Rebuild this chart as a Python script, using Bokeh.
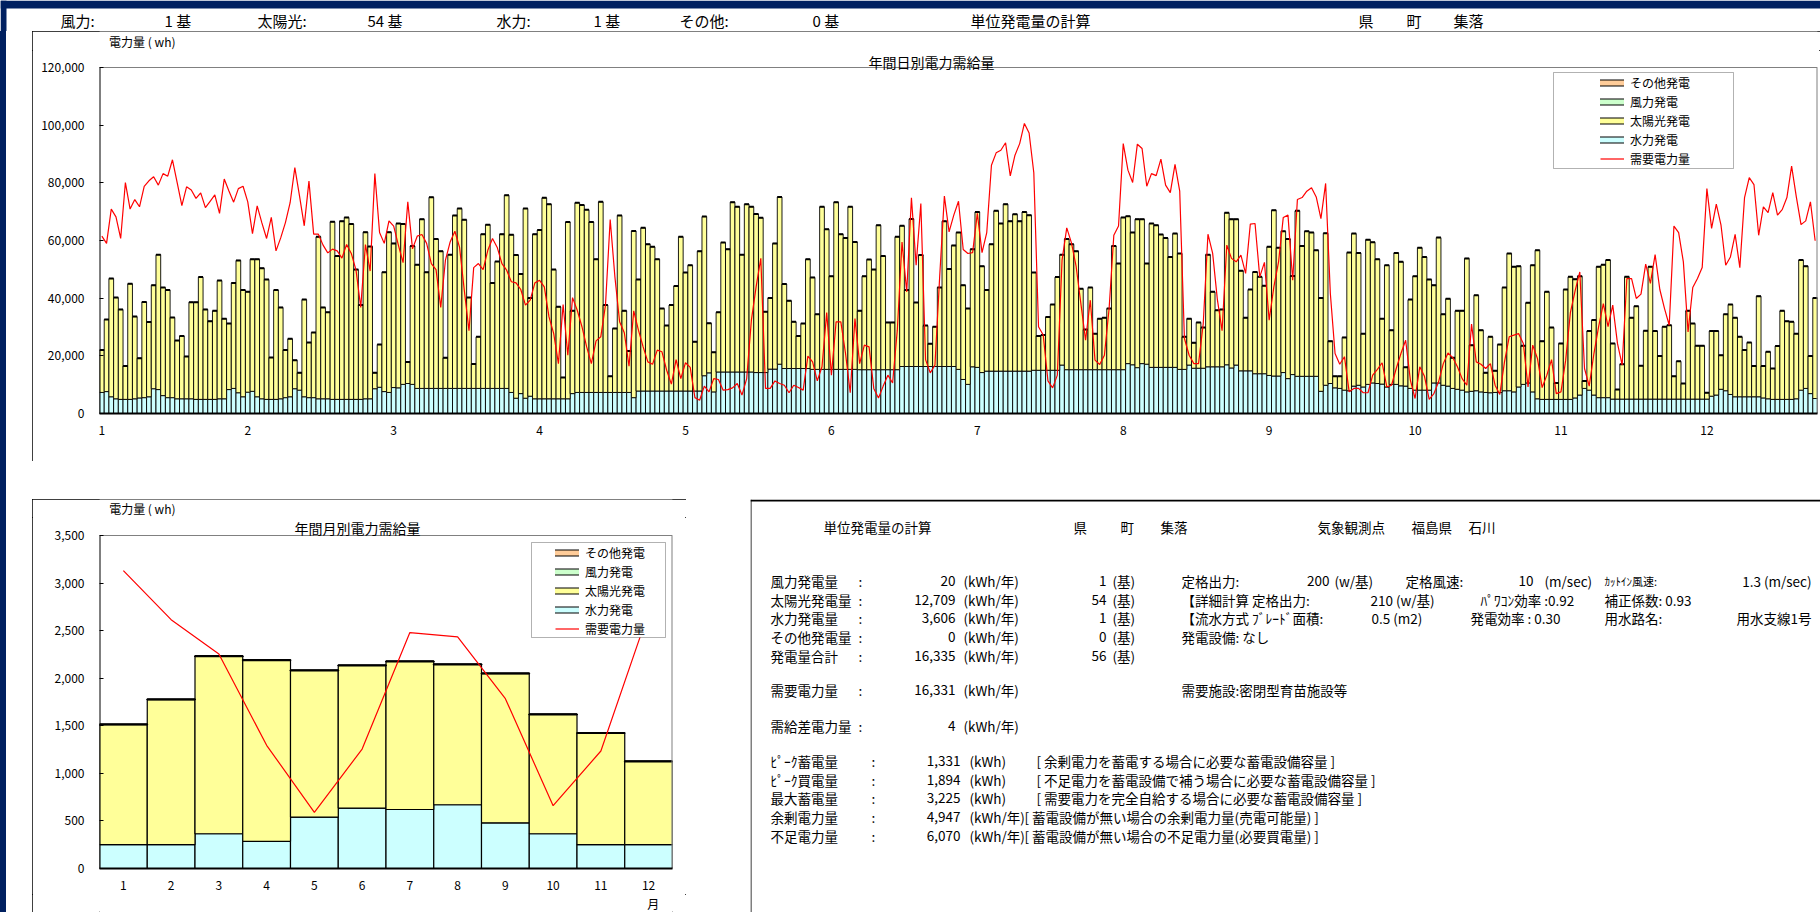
import numpy as np
from bokeh.plotting import figure
from bokeh.layouts import column, row
from bokeh.models import (Spacer, Range1d, FixedTicker, NumeralTickFormatter,
                          Legend, LegendItem, BoxAnnotation)
from bokeh.core.properties import value
from bokeh.embed import file_html
from bokeh.resources import INLINE

FONT = "Noto Sans CJK JP"
NAVY = "#002060"
C_OTHER, C_WIND, C_SOLAR, C_HYDRO, C_DEMAND = "#FFCC99", "#CCFFCC", "#FFFF99", "#CCFFFF", "#FF0000"

# ---------------- daily data (wh) ----------------
hydro_daily = [
    7300, 7600, 5800, 5100, 4900, 4900, 4900, 5100, 5400, 5500,
    5800, 8600, 8300, 6200, 5500, 5500, 5100, 5100, 5100, 5100,
    4900, 4900, 4900, 4900, 4900, 5100, 5100, 8300, 8700, 7200,
    5800, 7400, 7700, 5800, 5100, 4900, 4900, 4900, 5100, 5500,
    5800, 8600, 8100, 5800, 5500, 5500, 5100, 5100, 5100, 4900,
    4900, 4900, 4900, 4900, 4900, 4900, 5100, 5100, 8600, 9100,
    7600, 7300, 9000, 8900, 10100, 10400, 10100, 8700, 8700, 8700,
    8700, 8700, 8700, 8700, 8700, 8700, 8700, 8700, 8700, 8700,
    8700, 8700, 8700, 8700, 8700, 8700, 8700, 7300, 5300, 6900,
    5300, 6000, 5100, 5100, 5100, 5100, 5100, 5100, 5100, 5100,
    6900, 7300, 7300, 7300, 7300, 7300, 7300, 7300, 7300, 7300,
    7300, 7300, 7300, 5500, 7800, 7800, 7800, 7800, 7800, 7800,
    7800, 7800, 7800, 7800, 7800, 7800, 7800, 7800, 13100, 14100,
    7500, 14400, 14400, 14400, 14400, 14400, 14400, 14400, 14400, 14200,
    14200, 14200, 15400, 15400, 17100, 15600, 15600, 15600, 15600, 15600,
    15600, 15300, 15300, 15300, 15300, 15300, 15300, 15300, 15300, 15300,
    15300, 15200, 15200, 15200, 15200, 15200, 15200, 15200, 15200, 15200,
    16300, 16300, 16300, 16300, 16300, 16300, 16300, 16300, 16300, 16300,
    16300, 16300, 15300, 11800, 10100, 16200, 16000, 14200, 14700, 14700,
    14700, 14700, 14700, 14700, 14700, 14700, 14700, 14700, 15000, 15000,
    15000, 15000, 15000, 15000, 16800, 15200, 15200, 15200, 15200, 15200,
    15200, 15200, 15200, 15200, 15200, 15200, 15200, 15200, 17300, 16900,
    15900, 17300, 17100, 16000, 16000, 16000, 16000, 16000, 16000, 15300,
    15300, 16800, 15700, 15700, 15700, 16200, 16200, 16200, 16200, 16900,
    15800, 16800, 14800, 14800, 14800, 13800, 13800, 13800, 13200, 13000,
    13000, 14200, 12100, 13500, 12900, 12900, 12900, 12900, 12900, 7700,
    9800, 10400, 8900, 8700, 8100, 7900, 9500, 9800, 9200, 10100,
    10600, 10400, 10200, 9200, 10100, 10100, 9600, 9500, 8700, 8100,
    8100, 8100, 8100, 10600, 10600, 9800, 9500, 8700, 8400, 8100,
    7500, 7700, 7900, 7500, 7300, 7200, 7300, 7300, 7900, 7900,
    7500, 9200, 10100, 10600, 7500, 5100, 4900, 4900, 4900, 4900,
    4900, 4900, 4900, 5400, 6400, 8700, 8100, 6400, 5500, 5500,
    5500, 5000, 5000, 5000, 5000, 5000, 5000, 5000, 5000, 5000,
    5000, 5000, 5000, 5000, 5000, 5000, 5000, 5000, 5000, 5000,
    5000, 5000, 6000, 6400, 8400, 7900, 6600, 5800, 5800, 5800,
    5800, 5800, 5800, 5400, 5100, 4900, 4900, 4900, 4900, 4900,
    5100, 8100, 8700, 6900, 5200,
]

supply_total_daily = [
    22000, 32600, 46800, 40200, 36100, 16500, 45000, 33600, 19200, 38700,
    31700, 44500, 55100, 43700, 42800, 33300, 25300, 26900, 19800, 38600,
    38600, 47300, 36100, 32000, 35600, 46100, 32900, 31200, 45300, 53100,
    42800, 42200, 53500, 53500, 50400, 46500, 19400, 42800, 36800, 22000,
    25900, 18500, 14100, 39500, 24600, 28100, 61300, 36800, 35100, 66500,
    54600, 66700, 68000, 65700, 49900, 37600, 62900, 57900, 14100, 23900,
    49000, 62900, 59000, 65900, 65700, 17900, 58100, 51600, 67400, 49000,
    75000, 60500, 56300, 19300, 55100, 68700, 71100, 67200, 40200, 17200,
    26600, 62200, 65500, 45300, 52700, 62200, 75700, 62000, 55000, 48400,
    71100, 40100, 62200, 63600, 74800, 72600, 49900, 37000, 12500, 66400,
    35600, 73100, 72300, 70700, 66400, 53500, 73400, 37600, 12900, 29500,
    68700, 35600, 21700, 63300, 46500, 64400, 58700, 57800, 53500, 36400,
    30500, 37600, 44200, 61300, 48900, 51400, 24900, 56300, 68300, 31300,
    21200, 35100, 59300, 57000, 73300, 71700, 55100, 72600, 71700, 69200,
    67900, 35300, 40100, 59000, 75100, 44900, 39100, 31800, 26900, 31200,
    53500, 47200, 34400, 71700, 63900, 47600, 73300, 62200, 60900, 71700,
    59500, 35600, 47600, 53400, 49900, 65300, 54600, 31600, 31600, 61300,
    65100, 42800, 67500, 38500, 55000, 30500, 24200, 30100, 43700, 66700,
    50100, 58300, 62800, 44500, 36400, 57000, 69900, 51100, 42800, 58700,
    70300, 65900, 72600, 66700, 69100, 66700, 69900, 68800, 48900, 26900,
    27200, 33500, 37800, 47300, 55100, 60500, 58700, 56300, 43300, 29100,
    43700, 27700, 32900, 33200, 36400, 58100, 52000, 68000, 68400, 62800,
    67400, 67400, 52000, 65900, 65300, 62100, 60900, 54300, 62400, 55500,
    26600, 32900, 24500, 31600, 29800, 55100, 42200, 35800, 36100, 69600,
    67400, 67400, 49500, 33200, 43000, 49100, 47400, 44300, 57800, 70500,
    57500, 63200, 60500, 47700, 70300, 58100, 63200, 62800, 56600, 40100,
    62500, 25100, 12900, 12900, 26400, 55800, 62400, 55700, 27700, 60300,
    59400, 53500, 32900, 51400, 28900, 55700, 52600, 16000, 39500, 47600,
    57500, 54300, 46500, 44500, 61000, 34400, 39800, 19300, 35600, 35600,
    53800, 23700, 41000, 28900, 14100, 26600, 14800, 23900, 43700, 55500,
    50900, 51100, 23500, 38400, 51400, 56600, 25100, 42200, 29800, 10600,
    24300, 43000, 47400, 46600, 47600, 11300, 28600, 32400, 50900, 51600,
    53200, 24300, 8300, 17100, 47400, 33200, 37200, 16600, 28700, 50900,
    28600, 19900, 30100, 30600, 12900, 18100, 10400, 35600, 31200, 23500,
    23500, 7200, 28600, 28600, 20200, 34400, 37800, 33200, 26600, 22000,
    24600, 16500, 40700, 16500, 21400, 15600, 23400, 35600, 32000, 31800,
    27700, 53200, 51100, 19900, 40100,
]

demand_daily = [
    61500, 59000, 70900, 68200, 60700, 80100, 70900, 74200, 71700, 78800,
    80700, 82100, 79200, 83200, 82300, 88000, 80100, 72100, 78600, 77500,
    74600, 76500, 71400, 73600, 75800, 69400, 81300, 77200, 73300, 78000,
    78800, 73400, 62400, 72000, 66100, 60700, 68000, 56400, 60900, 66200,
    73100, 85300, 75400, 65100, 80600, 62200, 62200, 58400, 55700, 57000,
    56400, 53900, 58600, 55500, 49700, 36800, 58600, 49400, 83200, 62800,
    59000, 66800, 65000, 58400, 52300, 73400, 57100, 61500, 62100, 59000,
    52000, 49900, 36800, 53200, 59500, 63200, 57600, 42800, 28700, 50600,
    52000, 49900, 56600, 60700, 57600, 52000, 49700, 45700, 45300, 43000,
    37600, 39300, 45300, 46200, 43900, 33500, 27700, 17300, 37800, 20200,
    40200, 35800, 30100, 23100, 17300, 25200, 26600, 37600, 67300, 47400,
    31800, 28000, 16400, 35600, 28900, 23100, 17900, 17100, 22000, 21400,
    15000, 10200, 18700, 12100, 17600, 16000, 5500, 4600, 9500, 7500,
    12100, 11800, 8100, 8300, 8900, 10400, 6400, 12100, 32400, 43900,
    53800, 8700, 8700, 11300, 10400, 9800, 7200, 9800, 9000, 8100,
    19900, 17900, 11300, 16200, 35000, 13300, 31800, 31800, 20800, 7200,
    32900, 17300, 23700, 23100, 8700, 5400, 9500, 13300, 10600, 28900,
    59500, 42200, 74800, 51400, 72800, 18700, 14100, 16800, 47400, 75400,
    63000, 68800, 73600, 56900, 55500, 55800, 69400, 55800, 62700, 86100,
    90400, 91300, 93900, 82400, 89600, 93600, 100600, 97300, 83500, 30100,
    27200, 11300, 8900, 13300, 53200, 64400, 59200, 50900, 38100, 25400,
    39300, 18500, 17000, 20200, 36400, 61800, 65000, 93600, 84400, 80100,
    93400, 91900, 78800, 83200, 82500, 88200, 79200, 76600, 86400, 77100,
    26000, 20200, 17300, 17300, 31200, 62200, 55500, 39500, 28700, 58400,
    53800, 52600, 54900, 48600, 65700, 65900, 47400, 52400, 32400, 43900,
    52600, 68000, 68800, 46200, 74200, 74900, 77100, 78300, 75100, 67600,
    79800, 41600, 20800, 17100, 19700, 7500, 8700, 8700, 7200, 7200,
    13300, 15300, 17600, 9200, 9800, 15600, 20800, 25400, 11600, 5200,
    16200, 12900, 4900, 6900, 11000, 17300, 21000, 19400, 16200, 12100,
    9800, 31000, 17900, 17100, 15600, 17300, 9800, 6600, 17900, 26600,
    27200, 27700, 24300, 9200, 23700, 19100, 9000, 13300, 18700, 6900,
    7500, 18500, 35000, 42500, 49100, 15600, 9500, 20800, 30100, 38100,
    30100, 37600, 24300, 16800, 46800, 46800, 39900, 41400, 51800, 45100,
    55100, 43000, 36400, 30600, 65000, 62700, 52600, 28300, 43700, 46800,
    50600, 78000, 64200, 72600, 65300, 51400, 54300, 62100, 50600, 74900,
    81800, 79400, 61800, 71700, 69700, 76600, 68800, 70700, 74900, 85800,
    75100, 65500, 66800, 73400, 59900,
]

month_tick_days = [0, 31, 62, 93, 124, 155, 186, 217, 248, 279, 310, 341]
month_tick_labels = ["1", "2", "3", "4", "5", "6", "7", "8", "9", "10", "11", "12"]

# ---------------- monthly data (kWh) ----------------
months = [1, 2, 3, 4, 5, 6, 7, 8, 9, 10, 11, 12]
hydro_monthly = [250, 250, 365, 285, 540, 635, 620, 670, 480, 365, 250, 250]
solar_monthly = [1263, 1526, 1866, 1904, 1542, 1499, 1556, 1475, 1569, 1254, 1173, 875]
wind_monthly = [2, 2, 2, 2, 1, 1, 1, 1, 2, 2, 2, 2]
other_monthly = [0, 0, 0, 0, 0, 0, 0, 0, 0, 0, 0, 0]
demand_monthly = [3130, 2615, 2255, 1295, 590, 1255, 2480, 2435, 1785, 660, 1235, 2695]

FRAME_STYLE = {"outline": "1px solid #000000", "outline-offset": "-1px"}
NAVY_LEFT = {"background": "linear-gradient(90deg, %s 6px, #FFFFFF 6px)" % NAVY}


def plain_fig(w, h, xr, yr):
    f = figure(width=w, height=h, x_range=Range1d(*xr), y_range=Range1d(*yr),
               output_backend="svg", toolbar_location=None, min_border=0,
               x_axis_type=None, y_axis_type=None)
    f.grid.visible = False
    f.outline_line_color = None
    f.background_fill_color = "white"
    f.border_fill_color = "white"
    return f


def put_text(f, items, size, align="left"):
    f.text(x=[i[1] for i in items], y=[i[2] for i in items], text=[i[0] for i in items],
           text_font=value(FONT), text_font_size=size, text_baseline="middle",
           text_align=align, text_color="#000000")


def style_axes(p):
    for ax in (p.xaxis[0], p.yaxis[0]):
        ax.major_label_text_font = FONT
        ax.major_label_text_font_size = "12px"
        ax.major_label_text_color = "#000000"
        ax.minor_tick_line_color = None
    p.yaxis.axis_line_color = None
    p.xaxis.axis_line_color = "#000000"
    p.xaxis.axis_line_width = 2
    p.xaxis.major_tick_line_color = None
    p.xaxis.major_label_standoff = 6
    p.yaxis.major_tick_in = 4
    p.yaxis.major_tick_out = 0
    p.yaxis.major_label_standoff = 15
    p.yaxis.formatter = NumeralTickFormatter(format="0,0")
    p.xgrid.visible = False
    p.ygrid.visible = False
    p.outline_line_color = None
    p.background_fill_color = "white"
    p.border_fill_color = "white"


def swatch(p, color):
    nan = np.array([np.nan])
    a = p.segment(x0=nan, y0=nan, x1=nan, y1=nan, line_color="black", line_width=7, line_cap="square")
    b = p.segment(x0=nan, y0=nan, x1=nan, y1=nan, line_color=color, line_width=5, line_cap="square")
    return [a, b]


# ================= header strip (page y 0-31) =================
header = plain_fig(1820, 31, (0, 1820), (31, 0))
header.quad(left=[0, 0], right=[1820, 6], top=[0, 0], bottom=[8, 31], fill_color=NAVY, line_color=None)
put_text(header, [("風力:", 60, 20), ("1 基", 164, 20), ("太陽光:", 257, 20), ("54 基", 367, 20),
                  ("水力:", 496, 20), ("1 基", 593, 20), ("その他:", 679, 20), ("0 基", 812, 20),
                  ("単位発電量の計算", 970, 20), ("県", 1358, 20), ("町", 1406, 20), ("集落", 1453, 20)],
         "15px")

# ================= top: daily chart =================
T_FL, T_FR, T_FT, T_FB = 99, 1817, 67, 413      # plot area in page px
T_TOP = 50                                      # top of the chart canvas (page px)
days = list(range(len(hydro_daily)))
y_end_top = 120000 * (T_FB - T_TOP) / (T_FB - T_FT)

top_strip = plain_fig(1788, T_TOP - 31, (32, 1820), (T_TOP, 31))
put_text(top_strip, [("電力量 ( wh)", 42, 41)], "12px")

top = figure(width=1788, height=461 - T_TOP, x_range=Range1d(-0.5, 364.5), y_range=Range1d(0, y_end_top),
             output_backend="svg", toolbar_location=None,
             min_border_left=67, min_border_right=3, min_border_top=0, min_border_bottom=48)
style_axes(top)


def tx(px):
    return -0.5 + (px - T_FL) / (T_FR - T_FL) * 365


def ty(py):
    return (T_FB - py) / (T_FB - T_FT) * 120000


top.vbar(x=days, bottom=0, top=hydro_daily, width=1, fill_color=C_HYDRO, line_color="black", line_width=0.9)
top.vbar(x=days, bottom=hydro_daily, top=supply_total_daily, width=1, fill_color=C_SOLAR,
         line_color="black", line_width=0.9)
top.vbar(x=days, bottom=supply_total_daily, top=supply_total_daily, width=1, fill_color=C_WIND,
         line_color="black", line_width=2)
dl = top.line(days, demand_daily, line_color=C_DEMAND, line_width=1.2)

top.segment(x0=[-0.5], y0=[0], x1=[-0.5], y1=[120000], line_color="black", line_width=2)
top.segment(x0=[-0.5, 364.5], y0=[120000, 0], x1=[364.5, 364.5], y1=[120000, 120000],
            line_color="#808080", line_width=[1, 2])

top.yaxis.ticker = FixedTicker(ticks=[0, 20000, 40000, 60000, 80000, 100000, 120000])
top.xaxis.ticker = FixedTicker(ticks=month_tick_days)
top.xaxis.major_label_overrides = {d: l for d, l in zip(month_tick_days, month_tick_labels)}

top.text(x=[tx(931)], y=[ty(61)], text=["年間日別電力需給量"], text_font=value(FONT),
         text_font_size="14px", text_align="center", text_baseline="middle", text_color="#000000")

top.add_layout(BoxAnnotation(left=tx(1553), right=tx(1733), top=ty(72), bottom=ty(168),
                             fill_color="white", fill_alpha=1, line_color="black", line_width=1))
top_leg = Legend(items=[
    LegendItem(label="その他発電", renderers=swatch(top, C_OTHER)),
    LegendItem(label="風力発電", renderers=swatch(top, C_WIND)),
    LegendItem(label="太陽光発電", renderers=swatch(top, C_SOLAR)),
    LegendItem(label="水力発電", renderers=swatch(top, C_HYDRO)),
    LegendItem(label="需要電力量", renderers=[dl]),
], location=(1600 - T_FL, T_FB - 167.5), padding=0, spacing=0, margin=0,
    glyph_width=24, glyph_height=19, label_height=19, label_standoff=6,
    label_text_font=FONT, label_text_font_size="12px", label_text_color="#000000",
    border_line_alpha=0, background_fill_alpha=0)
top.add_layout(top_leg)

top_block = column(top_strip, top, styles=FRAME_STYLE)

# ================= bottom-left: monthly chart =================
M_FL, M_FR, M_FT, M_FB = 99, 672, 535, 868
M_TOP = 517
y_end_mon = 3500 * (M_FB - M_TOP) / (M_FB - M_FT)

mon_strip = plain_fig(654, M_TOP - 499, (32, 686), (M_TOP, 499))
put_text(mon_strip, [("電力量 ( wh)", 43, 508)], "12px")

mon = figure(width=654, height=894 - M_TOP, x_range=Range1d(0.5, 12.5), y_range=Range1d(0, y_end_mon),
             output_backend="svg", toolbar_location=None,
             min_border_left=67, min_border_right=14, min_border_top=0, min_border_bottom=26)
style_axes(mon)


def mx(px):
    return 0.5 + (px - M_FL) / (M_FR - M_FL) * 12


def my(py):
    return (M_FB - py) / (M_FB - M_FT) * 3500


solar_top = [h + s for h, s in zip(hydro_monthly, solar_monthly)]
wind_top = [t + w for t, w in zip(solar_top, wind_monthly)]
other_top = [t + o for t, o in zip(wind_top, other_monthly)]
mon.vbar(x=months, bottom=0, top=hydro_monthly, width=1, fill_color=C_HYDRO, line_color="black", line_width=1.2)
mon.vbar(x=months, bottom=hydro_monthly, top=solar_top, width=1, fill_color=C_SOLAR, line_color="black",
         line_width=1.2)
mon.vbar(x=months, bottom=solar_top, top=wind_top, width=1, fill_color=C_WIND, line_color="black", line_width=2)
mon.vbar(x=months, bottom=wind_top, top=other_top, width=1, fill_color=C_OTHER, line_color="black", line_width=1)
ml = mon.line(months, demand_monthly, line_color=C_DEMAND, line_width=1.2)

mon.segment(x0=[0.5], y0=[0], x1=[0.5], y1=[3500], line_color="black", line_width=2)
mon.segment(x0=[0.5, 12.5], y0=[3500, 0], x1=[12.5, 12.5], y1=[3500, 3500],
            line_color="#808080", line_width=[1, 2])

mon.yaxis.ticker = FixedTicker(ticks=[0, 500, 1000, 1500, 2000, 2500, 3000, 3500])
mon.xaxis.ticker = FixedTicker(ticks=months)

mon.text(x=[mx(357)], y=[my(527)], text=["年間月別電力需給量"], text_font=value(FONT),
         text_font_size="14px", text_align="center", text_baseline="middle", text_color="#000000")

mon.add_layout(BoxAnnotation(left=mx(531), right=mx(665), top=my(542), bottom=my(637),
                             fill_color="white", fill_alpha=1, line_color="black", line_width=1))
mon_leg = Legend(items=[
    LegendItem(label="その他発電", renderers=swatch(mon, C_OTHER)),
    LegendItem(label="風力発電", renderers=swatch(mon, C_WIND)),
    LegendItem(label="太陽光発電", renderers=swatch(mon, C_SOLAR)),
    LegendItem(label="水力発電", renderers=swatch(mon, C_HYDRO)),
    LegendItem(label="需要電力量", renderers=[ml]),
], location=(555 - M_FL, M_FB - 637.5), padding=0, spacing=0, margin=0,
    glyph_width=24, glyph_height=19, label_height=19, label_standoff=6,
    label_text_font=FONT, label_text_font_size="12px", label_text_color="#000000",
    border_line_alpha=0, background_fill_alpha=0)
mon.add_layout(mon_leg)

mon_bottom = plain_fig(654, 18, (32, 686), (912, 894))
put_text(mon_bottom, [("月", 664, 903)], "12px", align="center")

mon_block = column(mon_strip, mon, mon_bottom, styles=FRAME_STYLE)

# ================= bottom-right: result panel =================
panel = plain_fig(1070, 413, (750, 1820), (912, 499))
panel.segment(x0=[750], y0=[500], x1=[1820], y1=[500], line_color="black", line_width=2)
panel.segment(x0=[750.5], y0=[499], x1=[750.5], y1=[912], line_color="black", line_width=1)

gen_labels = ["風力発電量", "太陽光発電量", "水力発電量", "その他発電量", "発電量合計"]
gen_values = ["20", "12,709", "3,606", "0", "16,335"]
gen_counts = ["1", "54", "1", "0", "56"]
gen_y = [580, 599, 617, 636, 655]

store_labels = ["ﾋﾟｰｸ蓄電量", "ﾋﾟｰｸ買電量", "最大蓄電量", "余剰電力量", "不足電力量"]
store_values = ["1,331", "1,894", "3,225", "4,947", "6,070"]
store_units = ["(kWh)", "(kWh)", "(kWh)", "(kWh/年)", "(kWh/年)"]
store_notes = ["[ 余剰電力を蓄電する場合に必要な蓄電設備容量 ]",
               "[ 不足電力を蓄電設備で補う場合に必要な蓄電設備容量 ]",
               "[ 需要電力を完全自給する場合に必要な蓄電設備容量 ]",
               "[ 蓄電設備が無い場合の余剰電力量(売電可能量) ]",
               "[ 蓄電設備が無い場合の不足電力量(必要買電量) ]"]
store_note_x = [1036, 1036, 1036, 1024, 1024]
store_y = [760, 779, 797, 816, 835]

left_items = []
right_items = []
for t, x in [("単位発電量の計算", 823), ("県", 1073), ("町", 1120), ("集落", 1160),
             ("気象観測点", 1317), ("福島県", 1411), ("石川", 1468)]:
    left_items.append((t, x, 526))

for lab, val, cnt, y in zip(gen_labels, gen_values, gen_counts, gen_y):
    left_items += [(lab, 770, y), (":", 858, y), ("(kWh/年)", 963, y), ("(基)", 1112, y)]
    right_items += [(val, 955, y), (cnt, 1106, y)]

left_items += [("定格出力:", 1181, 580), ("(w/基)", 1334, 580), ("定格風速:", 1405, 580),
               ("(m/sec)", 1544, 580)]
right_items += [("200", 1329, 580), ("10", 1533, 580), ("1.3 (m/sec)", 1811, 580)]
left_items += [("【詳細計算 定格出力:", 1181, 599), ("210 (w/基)", 1370, 599),
               ("ﾊﾟﾜｺﾝ効率 :0.92", 1480, 599), ("補正係数: 0.93", 1604, 599)]
left_items += [("【流水方式 ﾌﾞﾚｰﾄﾞ面積:", 1181, 617), ("0.5 (m2)", 1371, 617),
               ("発電効率 : 0.30", 1470, 617), ("用水路名:", 1604, 617)]
right_items += [("用水支線1号", 1811, 617)]
left_items += [("発電設備: なし", 1181, 636)]

left_items += [("需要電力量", 770, 689), (":", 858, 689), ("(kWh/年)", 963, 689),
               ("需要施設:密閉型育苗施設等", 1181, 689)]
right_items += [("16,331", 955, 689)]
left_items += [("需給差電力量", 770, 725), (":", 858, 725), ("(kWh/年)", 963, 725)]
right_items += [("4", 955, 725)]

for lab, val, unit, note, nx, y in zip(store_labels, store_values, store_units, store_notes, store_note_x, store_y):
    left_items += [(lab, 770, y), (":", 871, y), (unit, 969, y), (note, nx, y)]
    right_items += [(val, 960, y)]

put_text(panel, left_items, "13.5px", "left")
put_text(panel, right_items, "13.5px", "right")
put_text(panel, [("ｶｯﾄｲﾝ風速:", 1604, 580)], "11px", "left")

layout = column(
    header,
    row(Spacer(width=32, height=430, styles=NAVY_LEFT), top_block),
    Spacer(width=1820, height=38, styles=NAVY_LEFT),
    row(Spacer(width=32, height=413, styles=NAVY_LEFT), mon_block,
        Spacer(width=64, height=413), panel),
)

with open("out.html", "w") as f:
    f.write(file_html(layout, INLINE))
